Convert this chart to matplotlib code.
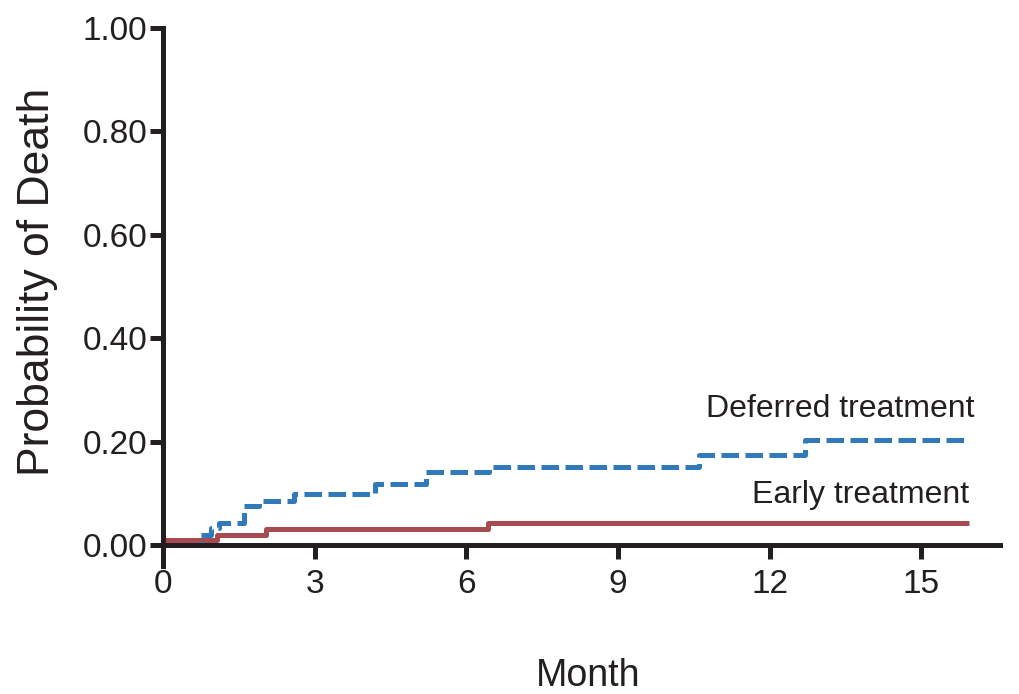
import numpy as np
import matplotlib
matplotlib.use("Agg")
import matplotlib.pyplot as plt
from matplotlib import font_manager

# months / cumulative probability of death (step functions)
deferred_months = [0, 0.75, 0.95, 1.1, 1.6, 1.9, 2.6, 4.2, 5.2, 6.45, 10.6, 12.7, 15.95]
deferred_prob = [0, 0.019, 0.033, 0.043, 0.075, 0.085, 0.099, 0.118, 0.141, 0.151, 0.174, 0.203, 0.203]

early_months = [0, 0.05, 1.07, 2.04, 6.43, 15.95]
early_prob = [0, 0.01, 0.019, 0.031, 0.043, 0.043]

x_ticks = [0, 3, 6, 9, 12, 15]
y_ticks = [0.0, 0.2, 0.4, 0.6, 0.8, 1.0]
y_ticklabels = ["0.00", "0.20", "0.40", "0.60", "0.80", "1.00"]

INK = "#231f20"
BLUE = "#3079bb"
RED = "#a84b50"

names = {f.name for f in font_manager.fontManager.ttflist}
NARROW = "Liberation Sans Narrow" if "Liberation Sans Narrow" in names else "Liberation Sans"
plt.rcParams["font.family"] = [NARROW, "DejaVu Sans"]

fig = plt.figure(figsize=(10.19, 6.94), dpi=100)
ax = fig.add_axes([163 / 1019, 1 - 566 / 694, (1000 - 163) / 1019, (566 - 28) / 694])

ax.step(early_months, early_prob, where="post", color=RED, lw=3.6, solid_capstyle="butt")
ax.step(deferred_months, deferred_prob, where="post", color=BLUE, lw=3.6,
        linestyle=(0, (3.5, 1.3)), dash_capstyle="butt")

ax.set_xlim(0, 16.56)
ax.set_ylim(-0.0406, 1.0)

for s in ["top", "right"]:
    ax.spines[s].set_visible(False)
ax.spines["bottom"].set_position(("data", 0))
for s in ["left", "bottom"]:
    ax.spines[s].set_linewidth(3.6)
    ax.spines[s].set_color(INK)

ax.set_xticks(x_ticks)
ax.set_xticklabels([str(t) for t in x_ticks])
ax.set_yticks(y_ticks)
ax.set_yticklabels(y_ticklabels)
ax.tick_params(axis="y", length=9.5, width=3.6, color=INK, pad=2, labelsize=24, labelcolor=INK)
ax.tick_params(axis="x", length=10, width=3.6, color=INK, pad=7, labelsize=24, labelcolor=INK)

ax.text(16.05, 0.247, "Deferred treatment", ha="right", va="baseline", fontsize=23, color=INK)
ax.text(15.95, 0.081, "Early treatment", ha="right", va="baseline", fontsize=23, color=INK)

fig.text(38 / 1019, 1 - 282 / 694, "Probability of Death", rotation=90, ha="center", va="center",
         fontsize=32, color=INK)
fig.text(588 / 1019, 1 - 686 / 694, "Month", ha="center", va="baseline", fontsize=27, color=INK)

fig.savefig("out.png", dpi=100)
